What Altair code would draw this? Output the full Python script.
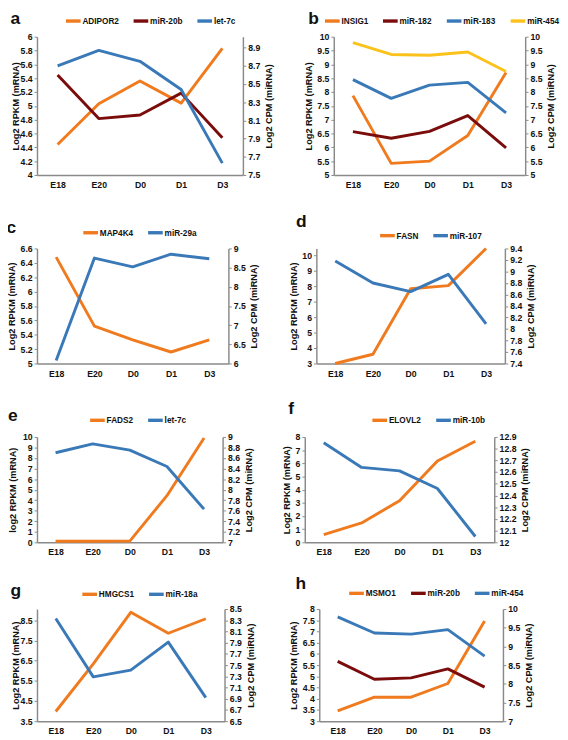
import altair as alt
import pandas as pd

stages = ["E18", "E20", "D0", "D1", "D3"]

# panel a
adipor2 = [4.44, 5.03, 5.36, 5.04, 5.83]
mir20b = [8.60, 8.12, 8.16, 8.40, 7.91]
let7c = [8.70, 8.87, 8.75, 8.44, 7.63]
# panel b
insig1 = [7.87, 5.42, 5.50, 6.43, 8.71]
mir182 = [6.57, 6.33, 6.58, 7.15, 5.98]
mir183 = [8.45, 7.77, 8.25, 8.35, 7.25]
mir454 = [9.79, 9.36, 9.33, 9.45, 8.74]
# panel c
map4k4 = [6.48, 5.52, 5.33, 5.16, 5.33]
mir29a = [6.08, 8.75, 8.52, 8.85, 8.73]
# panel d
fasn = [3.0, 3.6, 7.85, 8.05, 10.46]
mir107 = [9.18, 8.80, 8.65, 8.95, 8.09]
# panel e
fads2 = [0.10, 0.10, 0.12, 4.43, 9.90]
# panel f
elovl2 = [0.59, 1.47, 3.16, 6.17, 7.68]
mir10b = [12.85, 12.64, 12.61, 12.46, 12.05]
# panel g
hmgcs1 = [3.98, 6.34, 8.90, 7.86, 8.58]
mir18a = [8.33, 7.29, 7.41, 7.91, 6.92]
# panel h
msmo1 = [3.46, 4.07, 4.07, 4.68, 7.47]

# axis tick values
ticks_a_left = [4, 4.2, 4.4, 4.6, 4.8, 5, 5.2, 5.4, 5.6, 5.8, 6]
ticks_a_right = [7.5, 7.7, 7.9, 8.1, 8.3, 8.5, 8.7, 8.9]
ticks_b = [5, 5.5, 6, 6.5, 7, 7.5, 8, 8.5, 9, 9.5, 10]
ticks_c_left = [5, 5.2, 5.4, 5.6, 5.8, 6, 6.2, 6.4, 6.6]
ticks_c_right = [6, 6.5, 7, 7.5, 8, 8.5, 9]
ticks_d_left = [3, 4, 5, 6, 7, 8, 9, 10]
ticks_d_right = [7.4, 7.6, 7.8, 8, 8.2, 8.4, 8.6, 8.8, 9, 9.2, 9.4]
ticks_e_left = [0, 1, 2, 3, 4, 5, 6, 7, 8, 9, 10]
ticks_e_right = [7, 7.2, 7.4, 7.6, 7.8, 8, 8.2, 8.4, 8.6, 8.8, 9]
ticks_f_left = [0, 1, 2, 3, 4, 5, 6, 7, 8]
ticks_f_right = [12, 12.1, 12.2, 12.3, 12.4, 12.5, 12.6, 12.7, 12.8, 12.9]
ticks_g_left = [3.5, 4.5, 5.5, 6.5, 7.5, 8.5]
ticks_g_right = [6.5, 6.7, 6.9, 7.1, 7.3, 7.5, 7.7, 7.9, 8.1, 8.3, 8.5]
ticks_h_left = [3, 3.5, 4, 4.5, 5, 5.5, 6, 6.5, 7, 7.5, 8]
ticks_h_right = [7, 7.5, 8, 8.5, 9, 9.5, 10]

ORANGE = "#F07A1E"
DARKRED = "#7A0C0C"
BLUE = "#3A79B8"
YELLOW = "#FCC21C"
AXIS = "#8A8A8A"
FONT = "Liberation Sans"


def make_df(names, series):
    rows = []
    for n, vals in zip(names, series):
        for s, v in zip(stages, vals):
            rows.append({"stage": s, "value": v, "series": n})
    return pd.DataFrame(rows)


def yaxis(orient, values, title, tpad):
    extra = {}
    if orient == "right":
        extra = dict(titleAngle=270, titleBaseline="top")
    return alt.Axis(
        orient=orient, values=values, title=title, labelExpr="datum.value + ''",
        labelFont=FONT, labelFontSize=9, labelFontWeight="bold", labelColor="#111",
        titleFont=FONT, titleFontSize=9.5, titleFontWeight="bold", titleColor="#111",
        titlePadding=tpad, labelPadding=2, tickSize=3, tickColor=AXIS, domainColor=AXIS,
        domainWidth=1.5, tickWidth=1, grid=False, labelOverlap=False, **extra,
    )


def panel(letter, lnames, lvals, rnames, rvals, colors, ldom, lticks, rdom, rticks,
          w, h, lx, ly, toff, ltp=4, tdx=0, ltitle="Log2 RPKM (mRNA)"):
    names = lnames + rnames
    color = alt.Color(
        "series:N",
        scale=alt.Scale(domain=names, range=colors),
        legend=alt.Legend(
            orient="none", legendX=lx, legendY=ly, direction="horizontal", title=None,
            symbolType="stroke", symbolStrokeWidth=3.5, symbolSize=230,
            labelFont=FONT, labelFontSize=8.5, labelFontWeight="bold", labelColor="#111",
            labelOffset=0, columnPadding=7, symbolOffset=0,
        ),
    )
    x = alt.X(
        "stage:N", sort=stages, scale=alt.Scale(type="point", padding=0.5),
        axis=alt.Axis(title=None, labelAngle=0, ticks=False, domainColor=AXIS, domainWidth=1.5,
                      labelFont=FONT, labelFontSize=9, labelFontWeight="bold", labelColor="#111",
                      labelPadding=6),
    )
    left = alt.Chart(make_df(lnames, lvals)).mark_line(strokeWidth=3, strokeJoin="round").encode(
        x=x,
        y=alt.Y("value:Q", scale=alt.Scale(domain=ldom, nice=False, zero=False),
                axis=yaxis("left", lticks, ltitle, ltp)),
        color=color,
    )
    right = alt.Chart(make_df(rnames, rvals)).mark_line(strokeWidth=3, strokeJoin="round").encode(
        x=x,
        y=alt.Y("value:Q", scale=alt.Scale(domain=rdom, nice=False, zero=False),
                axis=yaxis("right", rticks, "Log2 CPM (miRNA)", 4)),
        color=color,
    )
    return alt.layer(left, right).resolve_scale(y="independent").properties(
        width=w, height=h,
        title=alt.TitleParams(letter, anchor="start", frame="bounds", fontSize=18,
                              font=FONT, fontWeight="bold", color="#111", offset=toff, dx=tdx),
    )


pa = panel("a", ["ADIPOR2"], [adipor2], ["miR-20b", "let-7c"], [mir20b, let7c],
           [ORANGE, DARKRED, BLUE], [4, 6.0], ticks_a_left, [7.5, 9.02], ticks_a_right,
           213, 143, 28, -26, -17, ltp=0)
pb = panel("b", ["INSIG1"], [insig1], ["miR-182", "miR-183", "miR-454"],
           [mir182, mir183, mir454], [ORANGE, DARKRED, BLUE, YELLOW],
           [5, 10], ticks_b, [5, 10], ticks_b, 198, 143, -11, -26, -17, tdx=5)
pc = panel("c", ["MAP4K4"], [map4k4], ["miR-29a"], [mir29a], [ORANGE, BLUE],
           [5, 6.6], ticks_c_left, [6, 9], ticks_c_right, 198, 119, 46, -26, -14, ltp=4)
pd_ = panel("d", ["FASN"], [fasn], ["miR-107"], [mir107], [ORANGE, BLUE],
            [3, 10.46], ticks_d_left, [7.4, 9.4], ticks_d_right, 195, 119, 64, -23, -5, tdx=8)
pe = panel("e", ["FADS2"], [fads2], ["let-7c"], [let7c], [ORANGE, BLUE],
           [0, 10], ticks_e_left, [7, 9], ticks_e_right, 192, 109, 53, -27, -14, ltp=5,
           ltitle="log2 RPKM (mRNA)")
pf = panel("f", ["ELOVL2"], [elovl2], ["miR-10b"], [mir10b], [ORANGE, BLUE],
           [0, 8], ticks_f_left, [12, 12.9], ticks_f_right, 196, 109, 68, -27, -7, tdx=7)
pg = panel("g", ["HMGCS1"], [hmgcs1], ["miR-18a"], [mir18a], [ORANGE, BLUE],
           [3.5, 9.06], ticks_g_left, [6.5, 8.5], ticks_g_right, 194, 116, 45, -25, -15, ltp=0)
ph = panel("h", ["MSMO1"], [msmo1], ["miR-20b", "miR-454"], [mir20b, mir454],
           [ORANGE, DARKRED, BLUE], [3, 8], ticks_h_left, [7, 10], ticks_h_right,
           190, 116, 29, -26, -9, tdx=7)


def indep(c):
    return c.resolve_scale(color="independent").resolve_legend(color="independent")


def row(p1, p2, sp):
    return indep(alt.hconcat(p1, p2, spacing=sp))


top_half = indep(alt.vconcat(row(pa, pb, 30), row(pc, pd_, 29), spacing=25))
bottom_half = indep(alt.vconcat(row(pe, pf, 28), row(pg, ph, 34), spacing=19))

chart = indep(alt.vconcat(top_half, bottom_half, spacing=23)).properties(
    padding={"left": -2, "top": -10, "right": 0, "bottom": 0}, background="white"
).configure_view(stroke=None)

chart.save("out.html", embed_options={"renderer": "svg", "actions": False})
